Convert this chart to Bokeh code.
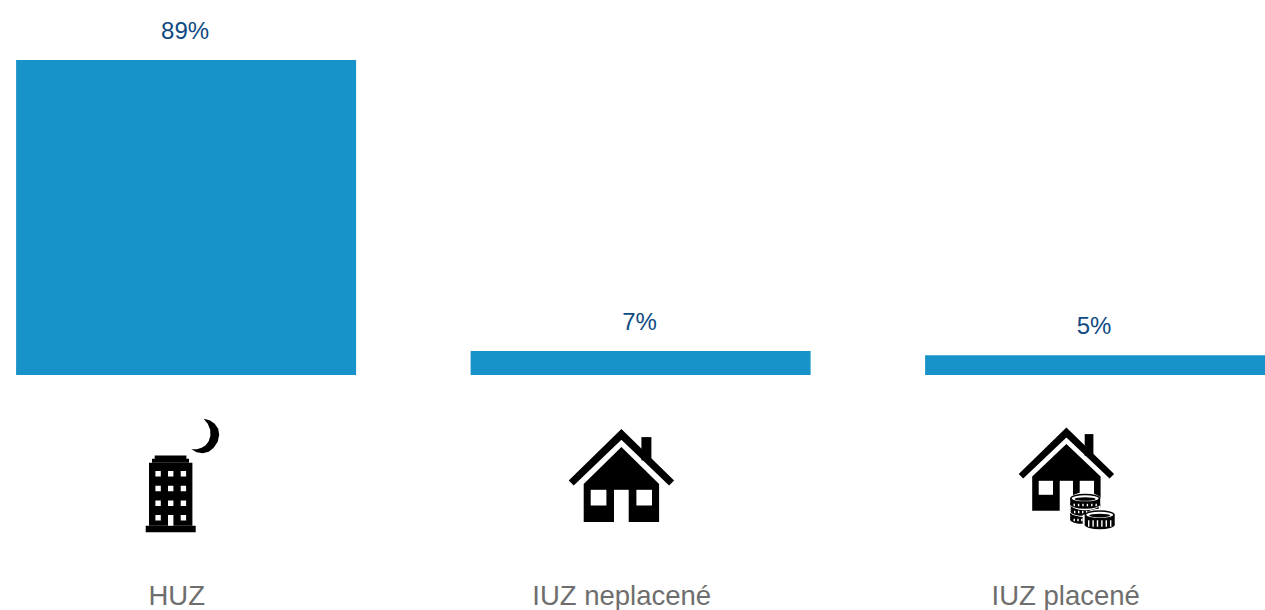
from bokeh.plotting import figure
from bokeh.models import Range1d, FixedTicker, LinearAxis
from bokeh.core.properties import value
from bokeh.embed import file_html
from bokeh.resources import INLINE

categories = ["HUZ", "IUZ neplacené", "IUZ placené"]
shares = [89.0, 6.8, 5.6]
share_labels = ["89%", "7%", "5%"]

BAR = "#1793c9"
LABEL = "#0f4a82"
AXIS = "#6e6e6e"
INK = "#000000"

PAGE_L, PAGE_R, PAGE_T, FRAME_B = 0, 1265, 0, 570
BASE_Y, PX_PER_PCT = 374.5, 315 / 89.0
CENTER0, STEP = 185.6, 454.5
LABEL_CENTERS = [177, 622, 1066]
SHIFT_X, SHIFT_Y = 0.8, 0.7

p = figure(
    width=PAGE_R - PAGE_L, height=610, frame_width=PAGE_R - PAGE_L, frame_height=FRAME_B - PAGE_T,
    x_range=Range1d(-(CENTER0 - PAGE_L) / STEP, (PAGE_R - CENTER0) / STEP),
    y_range=Range1d(-(FRAME_B - BASE_Y) / PX_PER_PCT, (BASE_Y - PAGE_T) / PX_PER_PCT),
    output_backend="svg", toolbar_location=None, tools="", x_axis_location=None, y_axis_location=None,
    min_border=0, min_border_left=0, min_border_right=0, min_border_top=0, min_border_bottom=0,
    outline_line_color=None, background_fill_color="white", border_fill_color="white",
)
# page-pixel coordinate system for the pictograms and the category labels
p.extra_x_ranges["px"] = Range1d(PAGE_L + SHIFT_X, PAGE_R + SHIFT_X)
p.extra_y_ranges["px"] = Range1d(FRAME_B + SHIFT_Y, PAGE_T + SHIFT_Y)

p.grid.visible = False
ax = LinearAxis(x_range_name="px")
ax.ticker = FixedTicker(ticks=LABEL_CENTERS)
ax.major_label_overrides = dict(zip(LABEL_CENTERS, categories))
ax.axis_line_color = None
ax.major_tick_line_color = None
ax.minor_tick_line_color = None
ax.major_label_standoff = 3
ax.major_label_text_font = "Liberation Sans"
ax.major_label_text_font_size = "27.5px"
ax.major_label_text_color = AXIS
p.add_layout(ax, "below")

xs = list(range(len(categories)))
p.vbar(x=xs, top=shares, bottom=0, width=340 / STEP, fill_color=BAR, line_color=None)
p.text(x=xs, y=shares, text=share_labels, text_align="center", text_baseline="middle",
       x_offset=-1, y_offset=-29.5,
       text_font=value("Liberation Sans"), text_font_size="24px", text_color=LABEL)


def poly(pts, color=INK):
    p.patch([a for a, _ in pts], [b for _, b in pts], fill_color=color, line_color=None,
            x_range_name="px", y_range_name="px")


def rect(x0, y0, x1, y1, color=INK):
    poly([(x0, y0), (x1, y0), (x1, y1), (x0, y1)], color)


def ell(cx, cy, w, h, color):
    p.ellipse(x=[cx], y=[cy], width=w, height=h, fill_color=color, line_color=None,
              x_range_name="px", y_range_name="px")


# building and moon
rect(146, 526, 196, 532.5)
rect(149.3, 463, 192.7, 526)
rect(152.3, 459, 189.3, 463)
rect(155, 455.7, 186.7, 459.3)
for wy in (471.3, 486, 500.7, 515.3):
    for wx in (155.7, 168.3, 181):
        if wy == 515.3 and wx == 168.3:
            rect(wx, wy, wx + 5.4, 526, "white")
        else:
            rect(wx, wy, wx + 5.4, wy + 5.4, "white")
poly([(204, 419), (210, 420.5), (215, 424), (218.5, 429), (219.5, 435), (218, 442), (214, 448),
      (209, 452), (203, 453.5), (197, 452.5), (191.7, 449.5), (197, 449.5), (202, 448), (206, 445.5),
      (209, 441.5), (210.7, 436), (210.5, 430), (208, 424)])


def house(apex, half, end_y, d_end, inner, chim, chim_top, body_apex, body_half, eave, bottom,
          door, win_l, win_r, win_y):
    cx, ay = apex
    lift = ay + (chim[1] - cx) * (end_y - ay) / half
    rect(chim[0], chim_top, chim[1], lift + 2)
    poly([(cx, ay), (cx + half, end_y), (cx + half - d_end, end_y + d_end), (cx, inner),
          (cx - half + d_end, end_y + d_end), (cx - half, end_y)])
    poly([(cx, body_apex), (cx + body_half, eave), (cx + body_half, bottom), (cx - body_half, bottom),
          (cx - body_half, eave)])
    rect(door[0], win_y[0], door[1], bottom + 0.5, "white")
    rect(win_l[0], win_y[0], win_l[1], win_y[1], "white")
    rect(win_r[0], win_y[0], win_r[1], win_y[1], "white")


house((621.7, 429.3), 52.7, 480.7, 5, 440, (641.7, 651.7), 437.3, 447.3, 37.7, 484.3, 522.3,
      (614.3, 629), (591, 606.7), (636.7, 652.3), (490, 505.7))
house((1066.7, 427.7), 47.7, 474.3, 4.5, 437.7, (1085, 1093.7), 434.3, 444.3, 34.2, 476.7, 511,
      (1060, 1073.3), (1039, 1053.3), (1080, 1094.3), (481, 495))


def coin(cx, top_y, w, h, depth, n_ticks=6):
    # white halo, black side wall with white edge marks, ringed top face
    ell(cx, top_y + depth / 2, w + 4, h + depth + 3, "white")
    rect(cx - w / 2 - 2, top_y, cx + w / 2 + 2, top_y + depth, "white")
    ell(cx, top_y + depth, w, h, INK)
    rect(cx - w / 2, top_y, cx + w / 2, top_y + depth)
    for i in range(n_ticks):
        tx = cx - w / 2 + 4 + i * (w - 8) / (n_ticks - 1)
        rect(tx - 0.7, top_y + h / 2 + 1, tx + 0.7, top_y + depth + h / 2 - 2.5, "white")
    ell(cx, top_y, w, h, INK)
    ell(cx, top_y, w - 3, h - 3, "white")
    ell(cx, top_y + 0.6, w - 9, h - 5.5, INK)


coin(1084, 514, 27, 8, 6)
coin(1085, 506, 28, 8, 6)
coin(1085.5, 498.5, 30, 9, 6)
coin(1100, 515, 30, 9, 10)

open("out.html", "w").write(file_html(p, INLINE))
